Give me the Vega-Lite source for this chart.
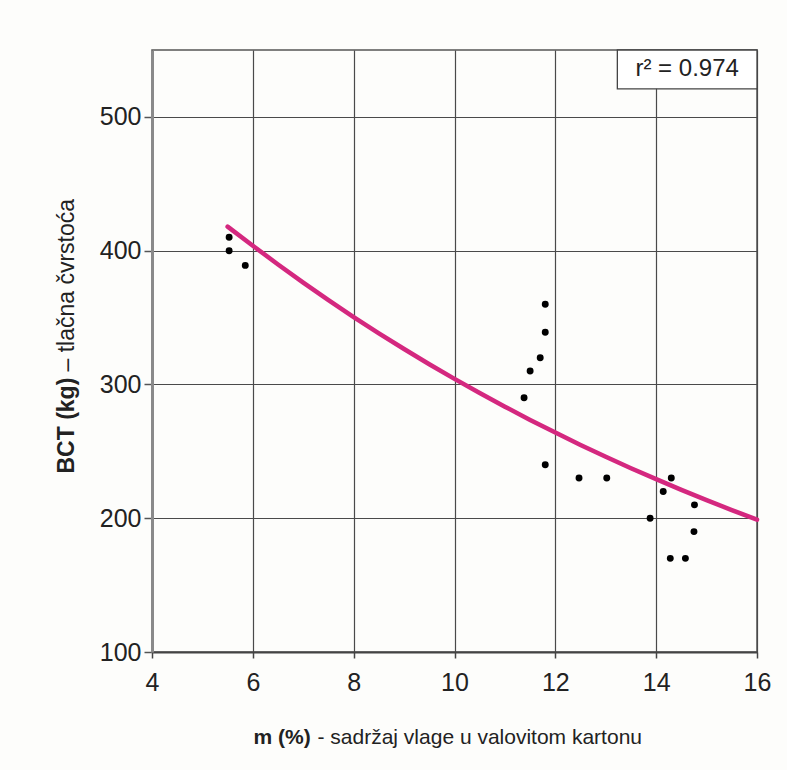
{
  "$schema": "https://vega.github.io/schema/vega-lite/v6.json",
  "width": 605,
  "height": 602,
  "autosize": "none",
  "padding": {"left": 152, "top": 50, "right": 30, "bottom": 118},
  "background": "#fdfdfb",
  "config": {
    "view": {"stroke": "#555", "strokeWidth": 1.5},
    "font": "Liberation Sans"
  },
  "datasets": {
    "points": [
      {"m": 5.53, "bct": 410}, {"m": 5.53, "bct": 400}, {"m": 5.85, "bct": 389},
      {"m": 11.38, "bct": 290}, {"m": 11.5, "bct": 310}, {"m": 11.7, "bct": 320},
      {"m": 11.8, "bct": 339}, {"m": 11.8, "bct": 360}, {"m": 11.8, "bct": 240},
      {"m": 12.47, "bct": 230}, {"m": 13.02, "bct": 230}, {"m": 13.88, "bct": 200},
      {"m": 14.14, "bct": 220}, {"m": 14.3, "bct": 230}, {"m": 14.76, "bct": 210},
      {"m": 14.75, "bct": 190}, {"m": 14.28, "bct": 170}, {"m": 14.58, "bct": 170}
    ],
    "curve": [
      {"m": 5.5, "bct": 418}, {"m": 6, "bct": 403.7}, {"m": 6.5, "bct": 389.7},
      {"m": 7, "bct": 376.1}, {"m": 7.5, "bct": 363}, {"m": 8, "bct": 350.4},
      {"m": 8.5, "bct": 338.2}, {"m": 9, "bct": 326.5}, {"m": 9.5, "bct": 315.1},
      {"m": 10, "bct": 304.2}, {"m": 10.5, "bct": 293.6}, {"m": 11, "bct": 283.4},
      {"m": 11.5, "bct": 273.5}, {"m": 12, "bct": 264}, {"m": 12.5, "bct": 254.8},
      {"m": 13, "bct": 246}, {"m": 13.5, "bct": 237.4}, {"m": 14, "bct": 229.2},
      {"m": 14.5, "bct": 221.2}, {"m": 15, "bct": 213.5}, {"m": 15.5, "bct": 206.1},
      {"m": 16, "bct": 198.9}
    ],
    "note": [
      {"x1": 13.23, "x2": 16, "y1": 550, "y2": 521, "xc": 14.615, "yc": 535.5, "label": "r² = 0.974"}
    ]
  },
  "resolve": {"axis": {"x": "independent", "y": "independent"}},
  "layer": [
    {
      "data": {"name": "curve"},
      "mark": {"type": "line", "color": "#d4287f", "strokeWidth": 4.5, "strokeCap": "round"},
      "encoding": {
        "x": {"field": "m", "type": "quantitative",
          "scale": {"domain": [4, 16], "nice": false, "zero": false},
          "axis": {"orient": "bottom", "labels": false, "ticks": false, "domain": false, "grid": false,
            "title": "- sadržaj vlage u valovitom kartonu", "titleFont": "Liberation Sans",
            "titleFontSize": 21, "titleFontWeight": "normal", "titleColor": "#222",
            "titleAlign": "left", "titleBaseline": "alphabetic", "titleX": 165, "titleY": 91}},
        "y": {"field": "bct", "type": "quantitative",
          "scale": {"domain": [100, 550], "nice": false, "zero": false},
          "axis": {"orient": "left", "labels": false, "ticks": false, "domain": false, "grid": false,
            "title": "– tlačna čvrstoća", "titleFont": "Liberation Sans",
            "titleFontSize": 23, "titleFontWeight": "normal", "titleColor": "#222",
            "titleAngle": 270, "titleAlign": "left", "titleBaseline": "alphabetic", "titleX": -79, "titleY": 321}}
      }
    },
    {
      "data": {"name": "points"},
      "mark": {"type": "circle", "color": "#000", "opacity": 1, "size": 48},
      "encoding": {
        "x": {"field": "m", "type": "quantitative",
          "scale": {"domain": [4, 16], "nice": false, "zero": false},
          "axis": {"orient": "bottom", "values": [4, 6, 8, 10, 12, 14, 16], "grid": true,
            "gridColor": "#4a4a4a", "gridWidth": 1.2, "gridOpacity": 1,
            "domainColor": "#444", "domainWidth": 1.8,
            "tickColor": "#444", "tickSize": 6, "tickWidth": 1.5,
            "labelFontSize": 25, "labelColor": "#222", "labelPadding": 12, "labelFlush": false,
            "title": "m (%)", "titleFont": "Liberation Sans",
            "titleFontSize": 21, "titleFontWeight": "bold", "titleColor": "#222",
            "titleAlign": "left", "titleBaseline": "alphabetic", "titleX": 101, "titleY": 91}},
        "y": {"field": "bct", "type": "quantitative",
          "scale": {"domain": [100, 550], "nice": false, "zero": false},
          "axis": {"orient": "left", "values": [100, 200, 300, 400, 500], "grid": true,
            "gridColor": "#4a4a4a", "gridWidth": 1.2, "gridOpacity": 1,
            "domainColor": "#8a8a8a", "domainWidth": 3,
            "tickColor": "#555", "tickSize": 8, "tickWidth": 1.5,
            "labelFontSize": 25, "labelColor": "#222", "labelPadding": 3, "labelFlush": false,
            "title": "BCT (kg)", "titleFont": "Liberation Sans",
            "titleFontSize": 23, "titleFontWeight": "bold", "titleColor": "#222",
            "titleAngle": 270, "titleAlign": "left", "titleBaseline": "alphabetic", "titleX": -79, "titleY": 423}}
      }
    },
    {
      "data": {"name": "note"},
      "mark": {"type": "rect", "fill": "#ffffff", "stroke": "#444", "strokeWidth": 1.3},
      "encoding": {
        "x": {"field": "x1", "type": "quantitative", "axis": null},
        "x2": {"field": "x2"},
        "y": {"field": "y1", "type": "quantitative", "axis": null},
        "y2": {"field": "y2"}
      }
    },
    {
      "data": {"name": "note"},
      "mark": {"type": "text", "fontSize": 24, "color": "#222", "align": "center", "baseline": "middle"},
      "encoding": {
        "x": {"field": "xc", "type": "quantitative", "axis": null},
        "y": {"field": "yc", "type": "quantitative", "axis": null},
        "text": {"field": "label"}
      }
    }
  ]
}
